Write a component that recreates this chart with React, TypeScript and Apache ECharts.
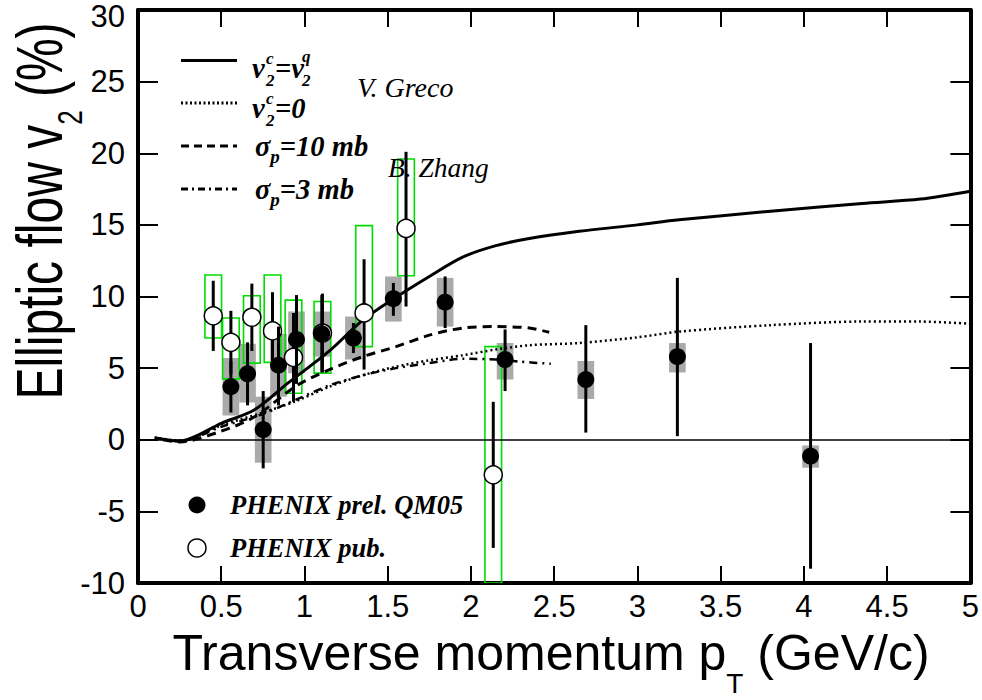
import React, { useEffect, useRef } from "react";
import * as echarts from "echarts";

// ---------- Data ----------
// PHENIX prel. QM05 (filled circles)
const prelPt = [0.558, 0.658, 0.752, 0.844, 0.952, 1.104, 1.294, 1.534, 1.845, 2.205, 2.69, 3.24, 4.04];
const prelV2 = [3.7, 4.6, 0.7, 5.2, 7.0, 7.4, 7.1, 9.85, 9.6, 5.6, 4.2, 5.8, -1.15];
const prelStatLo = [1.9, 2.4, -2.0, 2.4, 3.9, 4.7, 6.05, 8.65, 7.8, 3.4, 0.5, 0.25, -9.0];
const prelStatHi = [5.5, 6.8, 3.4, 7.9, 10.1, 10.1, 8.15, 10.95, 11.4, 7.7, 8.0, 11.3, 6.75];
const prelSysLo = [1.7, 2.6, -1.6, 3.0, 4.65, 5.8, 5.6, 8.25, 7.9, 4.2, 2.85, 4.7, -1.95];
const prelSysHi = [5.7, 6.7, 3.0, 7.4, 8.95, 8.95, 8.6, 11.4, 11.3, 6.75, 5.5, 6.75, -0.4];

// PHENIX pub. (open circles)
const pubPt = [0.452, 0.558, 0.684, 0.808, 0.934, 1.108, 1.358, 1.61, 2.134];
const pubV2 = [8.65, 6.8, 8.55, 7.6, 5.75, 7.45, 8.85, 14.75, -2.45];
const pubStatLo = [6.2, 4.6, 6.2, 4.9, 2.65, 4.7, 4.9, 9.3, -7.55];
const pubStatHi = [11.1, 9.0, 10.9, 10.3, 8.85, 10.2, 12.6, 20.1, 2.65];
const pubSysLo = [7.1, 4.25, 5.35, 5.4, 3.25, 4.65, 6.5, 11.45, -10];
const pubSysHi = [11.5, 8.5, 10.05, 11.5, 9.75, 9.65, 14.95, 19.6, 6.5];

// Theory curves
const grecoQPt = [0.1, 0.25, 0.5, 0.7, 0.9, 1.15, 1.35, 1.53, 1.75, 1.95, 2.15, 2.35, 2.65, 3.0, 3.25, 3.8, 4.35, 4.7, 5.0];
const grecoQV2 = [0.15, -0.1, 1.15, 2.1, 3.95, 6.2, 8.35, 9.8, 11.4, 12.75, 13.55, 14.05, 14.55, 15.0, 15.35, 15.95, 16.5, 16.8, 17.35];

const greco0Pt = [0.1, 0.25, 0.5, 0.75, 0.95, 1.15, 1.35, 1.55, 1.75, 1.95, 2.15, 2.35, 2.65, 3.0, 3.25, 3.8, 4.35, 4.7, 5.0];
const greco0V2 = [0.15, -0.05, 1.0, 1.9, 2.7, 3.7, 4.5, 5.1, 5.55, 5.9, 6.3, 6.6, 6.75, 7.15, 7.55, 8.0, 8.25, 8.25, 8.1];

const zhang10Pt = [0.15, 0.25, 0.5, 0.7, 0.95, 1.15, 1.35, 1.55, 1.75, 1.95, 2.15, 2.35, 2.47];
const zhang10V2 = [0.0, -0.15, 0.6, 1.6, 3.75, 4.9, 5.8, 6.5, 7.3, 7.8, 7.9, 7.8, 7.5];

const zhang3Pt = [0.15, 0.25, 0.5, 0.75, 0.95, 1.15, 1.35, 1.55, 1.75, 1.95, 2.15, 2.3, 2.48];
const zhang3V2 = [0.05, -0.1, 0.9, 1.8, 2.8, 3.8, 4.5, 5.0, 5.35, 5.65, 5.6, 5.45, 5.3];

// ---------- Styling constants ----------
const BOX_HALF = 0.05;
const SANS = "'Liberation Sans', Arial, Helvetica, sans-serif";
const SERIF = "'Liberation Serif', 'Times New Roman', serif";

const zip = (a: number[], b: number[]) => a.map((v, i) => [v, b[i]]);
const zip3 = (a: number[], b: number[], c: number[]) => a.map((v, i) => [v, b[i], c[i]]);

function boxSeries(name: string, data: number[][], fill: string, stroke: string, z: number) {
  return {
    type: "custom",
    name,
    data,
    z,
    clip: true,
    encode: { x: 0, y: [1, 2] },
    renderItem: (_p: any, api: any) => {
      const x = api.value(0);
      const p1 = api.coord([x - BOX_HALF, api.value(2)]);
      const p2 = api.coord([x + BOX_HALF, api.value(1)]);
      return {
        type: "rect",
        shape: { x: p1[0], y: p1[1], width: p2[0] - p1[0], height: p2[1] - p1[1] },
        style: { fill, stroke, lineWidth: stroke === "none" ? 0 : 1.6 },
      };
    },
  };
}

function barSeries(name: string, data: number[][], z: number) {
  return {
    type: "custom",
    name,
    data,
    z,
    clip: true,
    encode: { x: 0, y: [1, 2] },
    renderItem: (_p: any, api: any) => {
      const x = api.value(0);
      const a = api.coord([x, api.value(1)]);
      const b = api.coord([x, api.value(2)]);
      return {
        type: "line",
        shape: { x1: a[0], y1: a[1], x2: b[0], y2: b[1] },
        style: { stroke: "#000", lineWidth: 3 },
      };
    },
  };
}

function curve(name: string, pt: number[], v2: number[], type: any, width: number, z: number) {
  return {
    type: "line",
    name,
    data: zip(pt, v2),
    showSymbol: false,
    symbol: "none",
    smooth: 0.3,
    z,
    lineStyle: { color: "#000", width, type },
  };
}

function legendText(text: string, x: number, y: number, size: number, italicBold = true) {
  return {
    type: "text",
    x,
    y,
    z: 50,
    style: {
      text,
      fontFamily: SERIF,
      fontSize: size,
      fontStyle: "italic",
      fontWeight: italicBold ? "bold" : "normal",
      fill: "#000",
      align: "left",
      verticalAlign: "middle",
    },
  };
}

function legendLine(y: number, dash: any) {
  return {
    type: "line",
    z: 50,
    shape: { x1: 181, y1: y, x2: 237, y2: y },
    style: { stroke: "#000", lineWidth: 3, lineDash: dash },
  };
}

function sigmaText(text: string, y: number) {
  return {
    type: "text", x: 255, y, z: 50,
    style: {
      text, fontFamily: SERIF, fontSize: 28.5, fontStyle: "italic", fontWeight: "bold",
      fill: "#000", lineHeight: 40, align: "left", verticalAlign: "middle",
      rich: { sub: { fontFamily: SERIF, fontSize: 19, fontStyle: "italic", fontWeight: "bold", lineHeight: 19, verticalAlign: "bottom", fill: "#000" } },
    },
  };
}

export default function App() {
  const ref = useRef<HTMLDivElement>(null);

  useEffect(() => {
    if (!ref.current) return;
    const chart = echarts.init(ref.current, undefined, { renderer: "svg" });

    const axisLine = { show: true, onZero: false, lineStyle: { color: "#000", width: 4 } };
    const tickX = { show: true, inside: true, length: 17, lineStyle: { color: "#000", width: 2 } };
    const tickY = { show: true, inside: true, length: 20, lineStyle: { color: "#000", width: 2 } };
    const labelStyle = { fontFamily: SANS, fontSize: 31, color: "#000" };

    const option: any = {
      animation: false,
      backgroundColor: "#fff",
      grid: { left: 138, right: 10, top: 10, bottom: 117, containLabel: false },
      xAxis: [
        {
          type: "value", min: 0, max: 5, interval: 0.5, position: "bottom",
          axisLine, axisTick: tickX, splitLine: { show: false },
          axisLabel: { ...labelStyle, margin: 8 },
        },
        {
          type: "value", min: 0, max: 5, interval: 0.5, position: "top",
          axisLine, axisTick: tickX, splitLine: { show: false },
          axisLabel: { show: false },
        },
      ],
      yAxis: [
        {
          type: "value", min: -10, max: 30, interval: 5, position: "left",
          axisLine, axisTick: tickY, splitLine: { show: false },
          axisLabel: {
            ...labelStyle, margin: 13,
            formatter: (v: number) => (v === 30 ? "{top|" + v + "}" : String(v)),
            rich: {
              top: { fontFamily: SANS, fontSize: 31, color: "#000", padding: [13, 0, 0, 0] },
            },
          },
        },
        {
          type: "value", min: -10, max: 30, interval: 5, position: "right",
          axisLine, axisTick: tickY, splitLine: { show: false },
          axisLabel: { show: false },
        },
      ],
      series: [
        boxSeries("prel sys", zip3(prelPt, prelSysLo, prelSysHi), "#aaaaaa", "none", 1),
        boxSeries("pub sys", zip3(pubPt, pubSysLo, pubSysHi), "none", "#00dd00", 2),
        {
          ...curve("v2c=v2q", grecoQPt, grecoQV2, "solid", 3, 3),
          markLine: {
            silent: true,
            symbol: "none",
            label: { show: false },
            lineStyle: { color: "#000", width: 1.5, type: "solid" },
            data: [{ yAxis: 0 }],
          },
        },
        curve("v2c=0", greco0Pt, greco0V2, [2, 3], 2.5, 3),
        curve("sigma 10 mb", zhang10Pt, zhang10V2, [9, 6], 3, 3),
        curve("sigma 3 mb", zhang3Pt, zhang3V2, [8, 5, 2, 5], 2.5, 3),
        barSeries("pub stat", zip3(pubPt, pubStatLo, pubStatHi), 4),
        {
          type: "scatter", name: "PHENIX pub.", data: zip(pubPt, pubV2), z: 5,
          symbol: "circle", symbolSize: 18,
          itemStyle: { color: "#fff", borderColor: "#000", borderWidth: 1.5, opacity: 1 },
        },
        barSeries("prel stat", zip3(prelPt, prelStatLo, prelStatHi), 6),
        {
          type: "scatter", name: "PHENIX prel. QM05", data: zip(prelPt, prelV2), z: 7,
          symbol: "circle", symbolSize: 17,
          itemStyle: { color: "#000", opacity: 1 },
        },
      ],
      graphic: [
        // Y axis title
        {
          type: "text", x: 39, y: 211, rotation: Math.PI / 2, scaleY: 1.35, z: 50,
          style: {
            text: "Elliptic flow v{sub|2} (%)",
            fontFamily: SANS, fontSize: 48, fill: "#000", lineHeight: 72,
            align: "center", verticalAlign: "middle",
            rich: { sub: { fontFamily: SANS, fontSize: 26, lineHeight: 28, verticalAlign: "bottom", fill: "#000" } },
          },
        },
        // X axis title
        {
          type: "text", x: 551, y: 653, z: 50,
          style: {
            text: "Transverse momentum p{sub|T} (GeV/c)",
            fontFamily: SANS, fontSize: 50, fill: "#000", lineHeight: 88,
            align: "center", verticalAlign: "middle",
            rich: { sub: { fontFamily: SANS, fontSize: 28, lineHeight: 30, verticalAlign: "bottom", fill: "#000" } },
          },
        },
        // Curve legend samples
        legendLine(60.5, null),
        legendLine(103, [2, 2.5]),
        legendLine(146, [8, 5]),
        legendLine(189, [7, 4, 2, 4]),
        // v2c = v2q
        legendText("v", 252, 68, 28.5),
        legendText("c", 266, 58, 17),
        legendText("2", 266, 80, 17),
        legendText("=v", 275, 68, 28.5),
        legendText("q", 302, 56, 17),
        legendText("2", 302, 80, 17),
        // v2c = 0
        legendText("v", 252, 108, 28.5),
        legendText("c", 266, 98, 17),
        legendText("2", 266, 120, 17),
        legendText("=0", 275, 108, 28.5),
        // sigma_p rows
        sigmaText("σ{sub|p}=10 mb", 146),
        sigmaText("σ{sub|p}=3 mb", 189),
        // Model authors
        legendText("V. Greco", 357, 87, 28, false),
        legendText("B. Zhang", 388, 167, 27.5, false),
        // Data legend
        { type: "circle", z: 50, shape: { cx: 197, cy: 505, r: 8.5 }, style: { fill: "#000" } },
        { type: "circle", z: 50, shape: { cx: 197, cy: 548, r: 9 }, style: { fill: "#fff", stroke: "#000", lineWidth: 1.5 } },
        legendText("PHENIX prel. QM05", 230, 505, 26.5),
        legendText("PHENIX pub.", 230, 548, 26.5),
      ],
    };

    chart.setOption(option);
    return () => chart.dispose();
  }, []);

  return (
    <div
      ref={ref}
      style={{ position: "fixed", left: 0, top: 0, width: 982, height: 700, background: "#fff" }}
    />
  );
}
